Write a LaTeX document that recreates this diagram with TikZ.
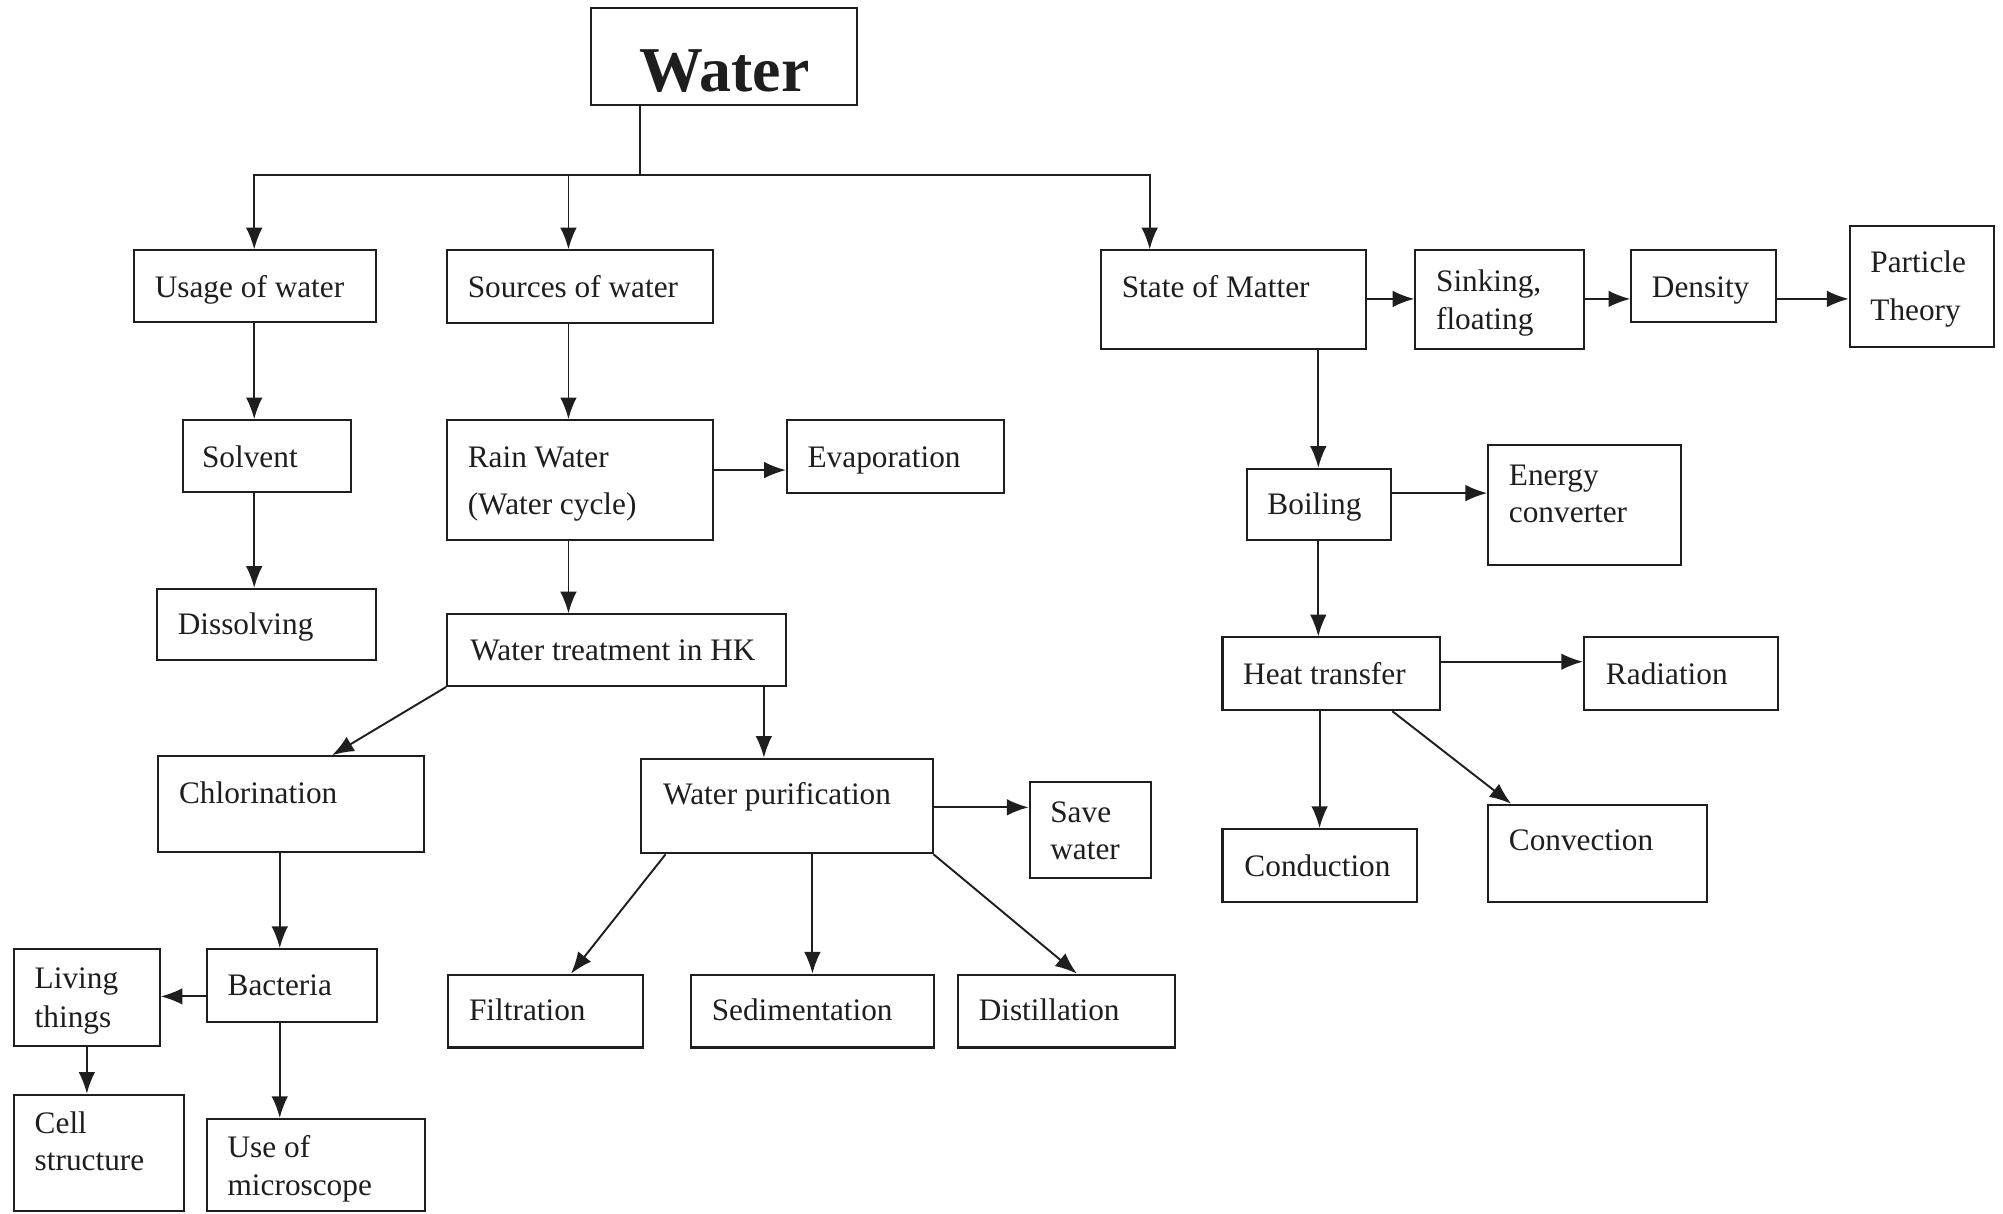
\documentclass[tikz,border=0pt]{standalone}
\usepackage{fontspec}
\setmainfont{Liberation Serif}
\usetikzlibrary{arrows.meta,fit}
\definecolor{ink}{RGB}{30,30,30}
\begin{document}
\begin{tikzpicture}[x=1pt,y=-1pt,
  box/.style={draw=ink,line width=1.6pt,inner sep=0pt},
  lbl/.style={anchor=base west,inner sep=0pt,text=ink,font=\fontsize{24.5}{29}\selectfont},
  ln/.style={draw=ink,line width=1.5pt},
  arr/.style={draw=ink,line width=1.5pt,-{Latex[length=17pt,width=13pt]}}]
\fill[white] (0,0) rectangle (1568,950);
\useasboundingbox (0,0) rectangle (1568,950);
% boxes
\node[box,fit={(463,6)(671,82)}] (water) {};
\node[box,fit={(105,196)(294,252)}] (usage) {};
\node[box,fit={(350,196)(558,253)}] (sources) {};
\node[box,fit={(862,196)(1069,273)}] (som) {};
\node[box,fit={(1108,196)(1240,273)}] (sink) {};
\node[box,fit={(1277,196)(1390,252)}] (dens) {};
\node[box,fit={(1448,177)(1561,272)}] (part) {};
\node[box,fit={(143,329)(275,385)}] (solv) {};
\node[box,fit={(350,329)(558,423)}] (rain) {};
\node[box,fit={(616,329)(786,386)}] (evap) {};
\node[box,fit={(123,461)(294,517)}] (diss) {};
\node[box,fit={(350,481)(615,537)}] (treat) {};
\node[box,fit={(124,592)(332,667)}] (chl) {};
\node[box,fit={(502,594)(730,668)}] (puri) {};
\node[box,fit={(806,612)(901,687)}] (save) {};
\node[box,fit={(976,367)(1089,423)}] (boil) {};
\node[box,fit={(1165,348)(1316,442)}] (energy) {};
\node[box,fit={(957,499)(1127,556)}] (heat) {};
\node[box,fit={(1240,499)(1392,556)}] (rad) {};
\node[box,fit={(957,649)(1109,706)}] (cond) {};
\node[box,fit={(1165,630)(1336,706)}] (conv) {};
\node[box,fit={(162,743)(295,800)}] (bact) {};
\node[box,fit={(11,743)(125,819)}] (living) {};
\node[box,fit={(351,763)(503,820)}] (filt) {};
\node[box,fit={(541,763)(731,820)}] (sedi) {};
\node[box,fit={(750,763)(920,820)}] (dist) {};
\node[box,fit={(11,857)(144,948)}] (cell) {};
\node[box,fit={(162,876)(333,948)}] (micro) {};
% texts
\node[lbl,anchor=base,font=\fontsize{50}{60}\selectfont\bfseries] (t-water) at (567,72) {Water};
\node[lbl] (t-usage) at (121,233) {Usage of water};
\node[lbl] (t-sources) at (366,233) {Sources of water};
\node[lbl] (t-som) at (878,233) {State of Matter};
\node[lbl] (t-sink1) at (1124,228) {Sinking,};
\node[lbl] (t-sink2) at (1124,258) {floating};
\node[lbl] (t-dens) at (1293,233) {Density};
\node[lbl] (t-part1) at (1464,213) {Particle};
\node[lbl] (t-part2) at (1464,251) {Theory};
\node[lbl] (t-solv) at (158,366) {Solvent};
\node[lbl] (t-rain1) at (366,366) {Rain Water};
\node[lbl] (t-rain2) at (366,403) {(Water cycle)};
\node[lbl] (t-evap) at (632,366) {Evaporation};
\node[lbl] (t-diss) at (139,497) {Dissolving};
\node[lbl] (t-treat) at (368,517) {Water treatment in HK};
\node[lbl] (t-chl) at (140,629) {Chlorination};
\node[lbl] (t-puri) at (519,630) {Water purification};
\node[lbl] (t-save1) at (822,644) {Save};
\node[lbl] (t-save2) at (822,673) {water};
\node[lbl] (t-boil) at (992,403) {Boiling};
\node[lbl] (t-energy1) at (1181,380) {Energy};
\node[lbl] (t-energy2) at (1181,409) {converter};
\node[lbl] (t-heat) at (973,536) {Heat transfer};
\node[lbl] (t-rad) at (1257,536) {Radiation};
\node[lbl] (t-cond) at (974,686) {Conduction};
\node[lbl] (t-conv) at (1181,666) {Convection};
\node[lbl] (t-bact) at (178,779) {Bacteria};
\node[lbl] (t-living1) at (27,774) {Living};
\node[lbl] (t-living2) at (27,804) {things};
\node[lbl] (t-filt) at (367,799) {Filtration};
\node[lbl] (t-sedi) at (557,799) {Sedimentation};
\node[lbl] (t-dist) at (766,799) {Distillation};
\node[lbl] (t-cell1) at (27,887) {Cell};
\node[lbl] (t-cell2) at (27,916) {structure};
\node[lbl] (t-micro1) at (178,906) {Use of};
\node[lbl] (t-micro2) at (178,936) {microscope};
% connectors
\coordinate (hub) at (501,137);
\draw[ln] (water.south -| hub) -- (hub);
\draw[arr] (hub) -| (usage.north -| 199,0);
\draw[arr] (hub) -| (sources.north -| 445,0);
\draw[arr] (hub) -| (som.north -| 900,0);
\draw[arr] (usage.south -| 199,0) -- (solv.north -| 199,0);
\draw[arr] (solv.south -| 199,0) -- (diss.north -| 199,0);
\draw[arr] (sources.south -| 445,0) -- (rain.north -| 445,0);
\draw[arr] (rain.east |- 0,368) -- (evap.west |- 0,368);
\draw[arr] (rain.south -| 445,0) -- (treat.north -| 445,0);
\draw[arr] (treat.south west) -- (chl.north -| 260,0);
\draw[arr] (treat.south -| 598,0) -- (puri.north -| 598,0);
\draw[arr] (chl.south -| 219,0) -- (bact.north -| 219,0);
\draw[arr] (bact.west |- 0,780) -- (living.east |- 0,780);
\draw[arr] (living.south -| 68,0) -- (cell.north -| 68,0);
\draw[arr] (bact.south -| 219,0) -- (micro.north -| 219,0);
\draw[arr] (puri.east |- 0,632) -- (save.west |- 0,632);
\draw[arr] (puri.south -| 521,0) -- (filt.north -| 447,0);
\draw[arr] (puri.south -| 636,0) -- (sedi.north -| 636,0);
\draw[arr] (puri.south east) -- (dist.north -| 843,0);
\draw[arr] (som.east |- 0,234) -- (sink.west |- 0,234);
\draw[arr] (sink.east |- 0,234) -- (dens.west |- 0,234);
\draw[arr] (dens.east |- 0,234) -- (part.west |- 0,234);
\draw[arr] (som.south -| 1032,0) -- (boil.north -| 1032,0);
\draw[arr] (boil.east |- 0,386) -- (energy.west |- 0,386);
\draw[arr] (boil.south -| 1032,0) -- (heat.north -| 1032,0);
\draw[arr] (heat.east |- 0,518) -- (rad.west |- 0,518);
\draw[arr] (heat.south -| 1033,0) -- (cond.north -| 1033,0);
\draw[arr] (heat.south -| 1090,0) -- (conv.north -| 1183,0);
\end{tikzpicture}
\end{document}
